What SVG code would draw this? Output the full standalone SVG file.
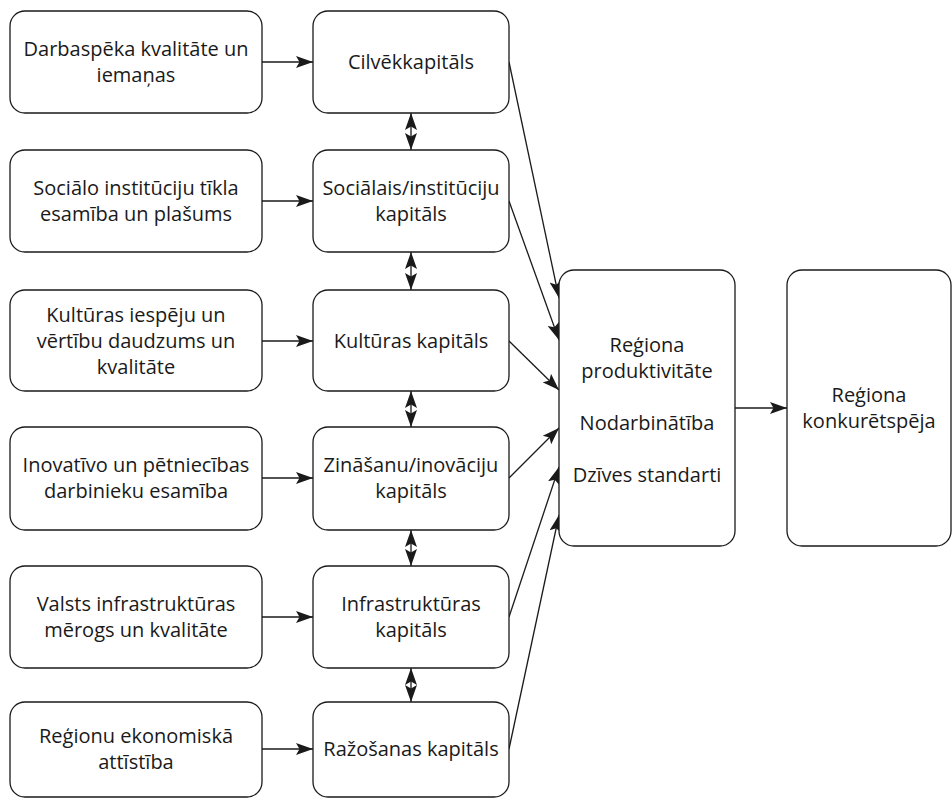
<svg xmlns="http://www.w3.org/2000/svg" width="952" height="800" viewBox="0 0 952 800">
<defs>
<style>
.box{fill:#ffffff;stroke:#1a1a1a;stroke-width:1.3}
.t{font-family:"Open Sans","Liberation Sans",sans-serif;font-size:20px;fill:#1a1a1a;text-anchor:middle}
.c{fill:none;stroke:#1a1a1a;stroke-width:1.3}
.a{marker-end:url(#ah)}
.d{marker-start:url(#ah);marker-end:url(#ah)}
</style>
<marker id="ah" markerUnits="userSpaceOnUse" markerWidth="18" markerHeight="13" viewBox="0 0 18 13" refX="17" refY="6.5" orient="auto-start-reverse">
<path d="M0,0.5 L17,6.5 L0,12.5 L3.5,6.5 z" fill="#1a1a1a"/>
</marker>
</defs>
<rect width="952" height="800" fill="#ffffff"/>
<g id="connectors">
<line class="c a" x1="262" y1="62" x2="313" y2="62"/>
<line class="c a" x1="262" y1="201" x2="313" y2="201"/>
<line class="c a" x1="262" y1="341" x2="313" y2="341"/>
<line class="c a" x1="262" y1="478" x2="313" y2="478"/>
<line class="c a" x1="262" y1="617" x2="313" y2="617"/>
<line class="c a" x1="262" y1="749" x2="313" y2="749"/>
<line class="c d" x1="411" y1="113" x2="411" y2="150"/>
<line class="c d" x1="411" y1="252" x2="411" y2="290"/>
<line class="c d" x1="411" y1="391" x2="411" y2="427"/>
<line class="c d" x1="411" y1="530" x2="411" y2="566"/>
<line class="c d" x1="411" y1="668" x2="411" y2="702"/>
<line class="c a" x1="509" y1="62" x2="559" y2="298"/>
<line class="c a" x1="509" y1="201" x2="559" y2="340"/>
<line class="c a" x1="509" y1="341" x2="559" y2="390"/>
<line class="c a" x1="509" y1="478" x2="559" y2="428"/>
<line class="c a" x1="509" y1="617" x2="559" y2="467"/>
<line class="c a" x1="509" y1="749" x2="559" y2="515"/>
<line class="c a" x1="735" y1="408" x2="787" y2="408"/>
</g>
<g id="l1"><rect class="box" x="10" y="11" width="252" height="102" rx="15"/>
<text class="t" x="136" y="56">Darbaspēka kvalitāte un</text><text class="t" x="136" y="82">iemaņas</text></g>
<g id="l2"><rect class="box" x="10" y="150" width="252" height="102" rx="15"/>
<text class="t" x="136" y="195">Sociālo institūciju tīkla</text><text class="t" x="136" y="221">esamība un plašums</text></g>
<g id="l3"><rect class="box" x="10" y="290" width="252" height="101" rx="15"/>
<text class="t" x="136" y="322">Kultūras iespēju un</text><text class="t" x="136" y="348">vērtību daudzums un</text><text class="t" x="136" y="374">kvalitāte</text></g>
<g id="l4"><rect class="box" x="10" y="427" width="252" height="103" rx="15"/>
<text class="t" x="136" y="472">Inovatīvo un pētniecības</text><text class="t" x="136" y="498">darbinieku esamība</text></g>
<g id="l5"><rect class="box" x="10" y="566" width="252" height="102" rx="15"/>
<text class="t" x="136" y="611">Valsts infrastruktūras</text><text class="t" x="136" y="637">mērogs un kvalitāte</text></g>
<g id="l6"><rect class="box" x="10" y="702" width="252" height="95" rx="15"/>
<text class="t" x="136" y="743">Reģionu ekonomiskā</text><text class="t" x="136" y="769">attīstība</text></g>
<g id="m1"><rect class="box" x="313" y="11" width="196" height="102" rx="15"/>
<text class="t" x="411" y="69">Cilvēkkapitāls</text></g>
<g id="m2"><rect class="box" x="313" y="150" width="196" height="102" rx="15"/>
<text class="t" x="411" y="195">Sociālais/institūciju</text><text class="t" x="411" y="221">kapitāls</text></g>
<g id="m3"><rect class="box" x="313" y="290" width="196" height="101" rx="15"/>
<text class="t" x="411" y="348">Kultūras kapitāls</text></g>
<g id="m4"><rect class="box" x="313" y="427" width="196" height="103" rx="15"/>
<text class="t" x="411" y="472">Zināšanu/inovāciju</text><text class="t" x="411" y="498">kapitāls</text></g>
<g id="m5"><rect class="box" x="313" y="566" width="196" height="102" rx="15"/>
<text class="t" x="411" y="611">Infrastruktūras</text><text class="t" x="411" y="637">kapitāls</text></g>
<g id="m6"><rect class="box" x="313" y="702" width="196" height="95" rx="15"/>
<text class="t" x="411" y="756">Ražošanas kapitāls</text></g>
<g id="r1"><rect class="box" x="559" y="270" width="176" height="276" rx="15"/>
<text class="t" x="647" y="352">Reģiona</text><text class="t" x="647" y="378">produktivitāte</text>
<text class="t" x="647" y="430">Nodarbinātība</text><text class="t" x="647" y="482">Dzīves standarti</text></g>
<g id="r2"><rect class="box" x="787" y="270" width="164" height="276" rx="15"/>
<text class="t" x="869" y="402">Reģiona</text><text class="t" x="869" y="428">konkurētspēja</text></g>
</svg>
